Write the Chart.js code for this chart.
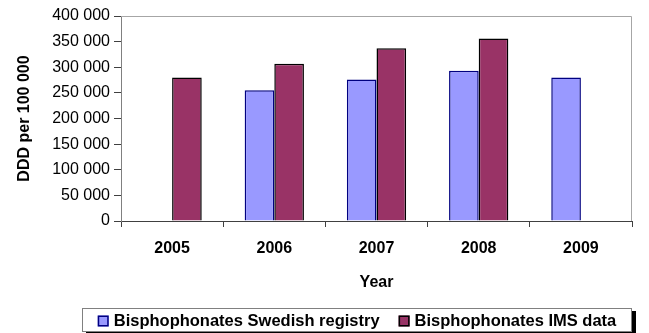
<!DOCTYPE html>
<html>
<head>
<meta charset="utf-8">
<script src="https://cdn.jsdelivr.net/npm/chart.js@4/dist/chart.umd.min.js"></script>
<style>
  html, body { margin: 0; padding: 0; background: #fff; }
  #wrap { width: 649px; height: 333px; }
</style>
</head>
<body>
<div id="wrap"><canvas id="grafico" width="649" height="333"></canvas></div>
<script>
// Datos
const years = ['2005', '2006', '2007', '2008', '2009'];
const swedishRegistry = [null, 255000, 276000, 293000, 280000];
const imsData = [280000, 307000, 337000, 356000, null];
const yTickLabels = ['0', '50 000', '100 000', '150 000', '200 000', '250 000', '300 000', '350 000', '400 000'];

const FONT = '"Liberation Sans", Arial, sans-serif';

// marco gris arriba y a la derecha del área del gráfico
const plotFrame = {
  id: 'plotFrame',
  afterDatasetsDraw(chart) {
    const { ctx, chartArea: a } = chart;
    ctx.save();
    ctx.strokeStyle = '#a6a6a6';
    ctx.lineWidth = 1;
    ctx.beginPath();
    ctx.moveTo(a.left, a.top + 0.5);
    ctx.lineTo(a.right - 0.5, a.top + 0.5);
    ctx.lineTo(a.right - 0.5, a.bottom);
    ctx.stroke();
    ctx.restore();
  }
};

// leyenda con recuadro y sombra negra
const legendBox = {
  id: 'legendBox',
  afterDraw(chart) {
    const ctx = chart.ctx;
    ctx.save();
    ctx.font = 'bold 16.5px ' + FONT;
    const items = chart.data.datasets.map(ds => ({
      text: ds.label, fill: ds.backgroundColor, stroke: ds.borderColor,
      w: ctx.measureText(ds.label).width
    }));
    const box = 11, gap = 5, between = 19;
    const content = items.reduce((s, it) => s + box + gap + it.w, 0) + between * (items.length - 1);
    const left = chart.chartArea.left - 39, right = chart.chartArea.right;
    const w = right - left, h = 24, top = chart.height - 25;

    ctx.fillStyle = '#000';
    ctx.fillRect(left + 4, top + 3, w, h);
    ctx.fillStyle = '#fff';
    ctx.fillRect(left, top, w, h);
    ctx.strokeStyle = '#808080';
    ctx.lineWidth = 1;
    ctx.strokeRect(left + 0.5, top + 0.5, w - 1, h - 1);

    let x = left + (w - content) / 2;
    const cy = top + h / 2 + 1;
    items.forEach(it => {
      ctx.fillStyle = it.fill;
      ctx.fillRect(x, cy - box / 2, box, box);
      ctx.strokeStyle = it.stroke;
      ctx.lineWidth = 1.5;
      ctx.strokeRect(x + 0.75, cy - box / 2 + 0.75, box - 1.5, box - 1.5);
      ctx.fillStyle = '#000';
      ctx.textBaseline = 'middle';
      ctx.fillText(it.text, x + box + gap, cy);
      x += box + gap + it.w + between;
    });
    ctx.restore();
  }
};

new Chart(document.getElementById('grafico'), {
  type: 'bar',
  data: {
    labels: years,
    datasets: [
      {
        label: 'Bisphophonates Swedish registry',
        data: swedishRegistry,
        backgroundColor: '#9999ff',
        borderColor: '#000080',
        borderWidth: 1.5
      },
      {
        label: 'Bisphophonates IMS data',
        data: imsData,
        backgroundColor: '#993366',
        borderColor: '#000000',
        borderWidth: 1.5
      }
    ]
  },
  options: {
    responsive: false,
    animation: false,
    layout: { padding: { top: 16, right: 17, bottom: 30, left: 0 } },
    datasets: { bar: { categoryPercentage: 0.58, barPercentage: 1 } },
    plugins: {
      legend: { display: false },
      tooltip: { enabled: false }
    },
    scales: {
      x: {
        offset: true,
        grid: { offset: true, drawOnChartArea: false, tickLength: 6, color: '#404040' },
        border: { color: '#404040' },
        ticks: { color: '#000', font: { family: FONT, size: 16, weight: 'bold' }, padding: 12, maxRotation: 0 },
        title: {
          display: true, text: 'Year', color: '#000',
          font: { family: FONT, size: 16, weight: 'bold' },
          padding: { top: 4, bottom: 11 }
        },
        afterFit: s => { s.height = 82; }
      },
      y: {
        min: 0,
        max: 400000,
        ticks: {
          stepSize: 50000,
          color: '#000',
          padding: 4,
          font: { family: FONT, size: 16 },
          callback: (v, i) => yTickLabels[i]
        },
        grid: { drawOnChartArea: false, tickLength: 7, color: '#404040' },
        border: { color: '#808080' },
        title: {
          display: true, text: 'DDD per 100 000', color: '#000',
          font: { family: FONT, size: 16, weight: 'bold' },
          padding: { top: 15, bottom: 0 }
        },
        afterFit: s => { s.width = 121; }
      }
    }
  },
  plugins: [plotFrame, legendBox]
});
</script>
</body>
</html>
